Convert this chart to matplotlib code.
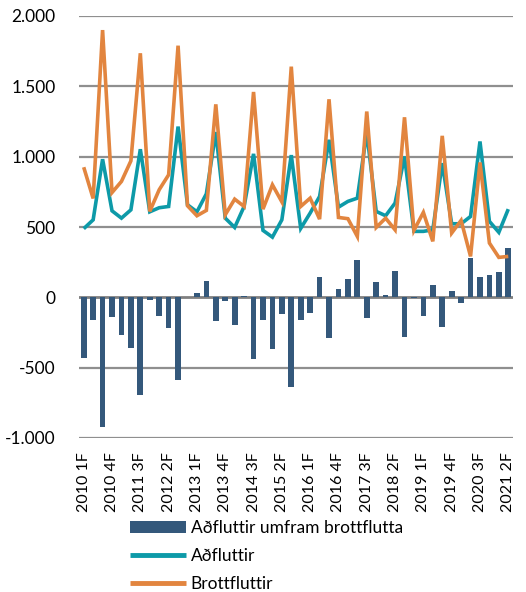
import matplotlib
matplotlib.use("Agg")
import matplotlib.pyplot as plt
from matplotlib.ticker import FuncFormatter, FixedLocator
import numpy as np

quarters = [f"{y} {q}F" for y in range(2010, 2022) for q in range(1, 5)][:46]

adfluttir = [488, 551, 982, 615, 563, 622, 1053, 608, 637, 646, 1214, 658, 608, 736,
             1175, 563, 497, 646, 1020, 476, 428, 551, 1011, 490, 599, 717, 1120, 641,
             682, 705, 1172, 611, 580, 670, 1001, 469, 469, 480, 954, 523, 523, 575,
             1108, 540, 462, 627]
brottfluttir = [925, 703, 1900, 745, 824, 970, 1735, 611, 765, 871, 1789, 651, 580, 618,
                1372, 587, 698, 646, 1460, 627, 800, 679, 1640, 646, 705, 556, 1408, 568,
                559, 433, 1321, 497, 563, 480, 1280, 476, 604, 398, 1148, 457, 547, 291,
                959, 386, 284, 291]
netto = [-431, -161, -919, -140, -270, -360, -692, -17, -130, -220, -590, 5, 33, 116,
         -168, -24, -199, 8, -441, -161, -370, -118, -640, -161, -109, 147, -291, 57,
         130, 265, -149, 109, 19, 187, -282, -4, -130, 90, -211, 47, -40, 277,
         147, 159, 180, 348]

labels = ["Aðfluttir umfram brottflutta", "Aðfluttir", "Brottfluttir"]
yticks = [-1000, -500, 0, 500, 1000, 1500, 2000]

plt.rcParams['font.family'] = ['Lato', 'DejaVu Sans']

W, H = 526, 592
fig = plt.figure(figsize=(W / 100, H / 100), dpi=100)
ax = fig.add_axes([79 / W, 1 - 438 / H, 434 / W, (438 - 16) / H])

x = np.arange(len(quarters))
bar_c = '#34587B'
teal = '#0D9AA8'
orange = '#E2853F'

b = ax.bar(x, netto, width=0.6, color=bar_c, zorder=3, label=labels[0])
l1, = ax.plot(x, adfluttir, color=teal, lw=2.6, zorder=4, label=labels[1],
              solid_joinstyle='miter', solid_capstyle='butt')
l2, = ax.plot(x, brottfluttir, color=orange, lw=2.6, zorder=5, label=labels[2],
              solid_joinstyle='miter', solid_capstyle='butt')

ax.set_xlim(-0.5, len(quarters) - 0.5)
ax.set_ylim(-1000, 2000)
ax.yaxis.set_major_locator(FixedLocator(yticks))
ax.yaxis.set_major_formatter(FuncFormatter(lambda v, p: f"{int(v):,}".replace(",", ".")))
for yv in yticks:
    if yv == 0:
        continue
    ax.axhline(yv, color='#8f8f8f', lw=1.6, zorder=1)
ax.axhline(0, color='#808080', lw=2.0, zorder=2)

tick_idx = list(range(0, len(quarters), 3))
ax.set_xticks(tick_idx)
ax.set_xticklabels([quarters[i] for i in tick_idx], rotation=90, fontsize=11.5)
ax.tick_params(axis='x', length=0, pad=10)
ax.tick_params(axis='y', length=0, pad=17, labelsize=12.5)
for s in ax.spines.values():
    s.set_visible(False)

leg = fig.legend([b, l1, l2], labels, loc='upper left',
                 bbox_to_anchor=(130 / W, 1 - 520 / H), frameon=False,
                 fontsize=12.5, handlelength=3.2, handleheight=0.65,
                 labelspacing=0.68, handletextpad=0.3,
                 borderaxespad=0, borderpad=0)
for line in leg.get_lines():
    line.set_linewidth(3.5)

fig.savefig('out.png', dpi=100)
